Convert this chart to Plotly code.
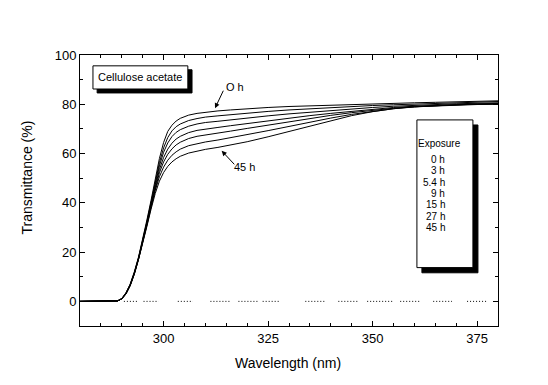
import plotly.graph_objects as go

wavelength = [280, 288, 289, 290, 291, 292, 293, 294, 295, 296, 297, 298, 299, 300, 301, 302, 303, 304,
              306, 308, 310, 313, 316, 320, 325, 330, 335, 340, 345, 350, 355, 360, 365, 370, 375, 380]

t_0h = [0, 0, 0.2, 1.2, 3.5, 7.0, 12.0, 18.0, 25.0, 33.0, 41.0, 50.0, 58.0, 64.5, 69.0, 71.5, 73.2, 74.3,
        75.6, 76.3, 76.8, 77.3, 77.7, 78.2, 78.7, 79.1, 79.4, 79.7, 80.0, 80.2, 80.4, 80.6, 80.8, 81.0, 81.2, 81.4]
t_3h = [0, 0, 0.2, 1.1, 3.4, 6.8, 11.7, 17.7, 24.6, 32.3, 40.2, 48.6, 56.3, 62.3, 66.5, 69.2, 70.9, 72.0,
        73.4, 74.2, 74.8, 75.3, 75.8, 76.4, 77.1, 77.7, 78.2, 78.7, 79.1, 79.5, 79.8, 80.1, 80.4, 80.7, 80.9, 81.1]
t_5_4h = [0, 0, 0.2, 1.1, 3.3, 6.7, 11.5, 17.5, 24.3, 31.9, 39.7, 47.8, 55.0, 60.5, 64.3, 66.9, 68.6, 69.7,
          71.1, 72.0, 72.6, 73.1, 73.7, 74.4, 75.3, 76.1, 76.8, 77.5, 78.1, 78.7, 79.2, 79.6, 79.9, 80.2, 80.4, 80.6]
t_9h = [0, 0, 0.2, 1.1, 3.2, 6.6, 11.4, 17.3, 24.0, 31.5, 39.1, 46.9, 53.5, 58.4, 61.8, 64.2, 65.9, 67.0,
        68.5, 69.4, 70.0, 70.6, 71.3, 72.2, 73.3, 74.4, 75.4, 76.3, 77.2, 78.0, 78.7, 79.2, 79.6, 79.9, 80.1, 80.3]
t_15h = [0, 0, 0.2, 1.0, 3.1, 6.5, 11.3, 17.2, 23.8, 31.2, 38.7, 46.1, 52.2, 56.6, 59.7, 61.9, 63.5, 64.6,
         66.1, 67.0, 67.6, 68.3, 69.1, 70.2, 71.6, 73.0, 74.3, 75.5, 76.6, 77.6, 78.4, 79.0, 79.4, 79.7, 79.9, 80.0]
t_27h = [0, 0, 0.2, 1.0, 3.0, 6.4, 11.1, 17.1, 23.6, 30.8, 38.1, 45.0, 50.6, 54.5, 57.3, 59.3, 60.7, 61.8,
         63.2, 64.1, 64.7, 65.5, 66.4, 67.6, 69.3, 71.0, 72.8, 74.4, 75.9, 77.2, 78.2, 78.9, 79.4, 79.8, 80.0, 80.2]
t_45h = [0, 0, 0.2, 1.0, 3.0, 6.3, 11.0, 17.0, 23.4, 30.4, 37.4, 43.8, 48.8, 52.3, 54.8, 56.6, 57.9, 58.9,
         60.2, 61.1, 61.7, 62.5, 63.4, 64.8, 66.8, 69.0, 71.3, 73.4, 75.4, 77.0, 78.2, 79.0, 79.5, 79.8, 80.0, 80.3]

series_names = ["0 h", "3 h", "5.4 h", "9 h", "15 h", "27 h", "45 h"]
series_values = [t_0h, t_3h, t_5_4h, t_9h, t_15h, t_27h, t_45h]

# dotted baseline segments at 0 %
baseline_x = [290.5, 293.8, None, 295.2, 298.8, None, 303.4, 307.0, None, 311.2, 316.0, None,
              317.9, 322.7, None, 323.7, 328.0, None, 333.9, 338.7, None, 341.8, 346.6, None,
              348.7, 354.7, None, 356.6, 361.4, None, 364.5, 369.0, None, 372.6, 377.4]
baseline_y = [0 if v is not None else None for v in baseline_x]

fig = go.Figure()
for name, vals in zip(series_names, series_values):
    fig.add_trace(go.Scatter(x=wavelength, y=vals, mode="lines", name=name,
                             line=dict(color="black", width=1), showlegend=False))
fig.add_trace(go.Scatter(x=baseline_x, y=baseline_y, mode="lines", showlegend=False,
                         line=dict(color="black", width=1, dash="1px,2px"), connectgaps=False))

font = "Arial, Liberation Sans, sans-serif"

shapes = [
    # Cellulose acetate box + shadow
    dict(type="rect", xref="x", yref="y", x0=284.1, x1=306.8, y0=84.6, y1=94.0,
         fillcolor="black", line=dict(color="black", width=1), layer="above"),
    dict(type="rect", xref="x", yref="y", x0=283.1, x1=305.8, y0=86.2, y1=95.6,
         fillcolor="white", line=dict(color="black", width=1), layer="above"),
    # Exposure legend box + shadow
    dict(type="rect", xref="x", yref="y", x0=361.8, x1=375.2, y0=11.6, y1=71.6,
         fillcolor="black", line=dict(color="black", width=1), layer="above"),
    dict(type="rect", xref="x", yref="y", x0=360.6, x1=374.0, y0=13.7, y1=73.65,
         fillcolor="white", line=dict(color="black", width=1), layer="above"),
]

annotations = [
    dict(x=294.45, y=90.9, xref="x", yref="y", text="Cellulose acetate", showarrow=False,
         font=dict(size=11, color="black", family=font)),
    dict(x=312.3, y=78.4, xref="x", yref="y", text="", showarrow=True, ax=9, ay=-19,
         arrowhead=2, arrowsize=1, arrowwidth=1, arrowcolor="black"),
    dict(x=313.9, y=61.1, xref="x", yref="y", text="", showarrow=True, ax=14, ay=15,
         arrowhead=2, arrowsize=1, arrowwidth=1, arrowcolor="black"),
    dict(x=317.0, y=87.0, xref="x", yref="y", text="O h", showarrow=False,
         font=dict(size=11, color="black", family=font)),
    dict(x=319.4, y=54.6, xref="x", yref="y", text="45 h", showarrow=False,
         font=dict(size=11, color="black", family=font)),
    dict(x=366.1, y=64.2, xref="x", yref="y", text="Exposure", showarrow=False,
         font=dict(size=10, color="black", family=font)),
    # axis titles
    dict(x=0.4976, y=-0.137, xref="paper", yref="paper", text="Wavelength (nm)", showarrow=False,
         xanchor="center", yanchor="middle", font=dict(size=14, color="black", family=font)),
    dict(x=-0.1275, y=0.547, xref="paper", yref="paper", text="Transmittance (%)", showarrow=False,
         xanchor="center", yanchor="middle", textangle=-90,
         font=dict(size=14, color="black", family=font)),
]
legend_y = [57.7, 53.0, 48.4, 43.8, 39.2, 34.5, 29.8]
for name, yy in zip(series_names, legend_y):
    annotations.append(dict(x=367.8, y=yy, xref="x", yref="y", text=name, showarrow=False,
                            xanchor="right", font=dict(size=10, color="black", family=font)))

fig.update_layout(
    width=548, height=385,
    margin=dict(l=72, r=58, t=47, b=67, autoexpand=False),
    paper_bgcolor="white", plot_bgcolor="white",
    font=dict(family=font, color="black", size=13),
    shapes=shapes, annotations=annotations,
    showlegend=False,
)
fig.update_xaxes(
    range=[280, 380], tick0=300, dtick=25, ticks="inside", ticklen=5, tickwidth=1,
    tickcolor="black", showline=True, linecolor="black", linewidth=1, mirror="ticks",
    showgrid=False, zeroline=False, tickfont=dict(size=13), automargin=False,
    minor=dict(ticks="inside", dtick=5, tick0=300, ticklen=3, tickcolor="black", showgrid=False),
)
fig.update_yaxes(
    range=[-10, 100], tick0=0, dtick=20, ticks="inside", ticklen=5, tickwidth=1,
    tickcolor="black", showline=True, linecolor="black", linewidth=1, mirror="ticks",
    showgrid=False, zeroline=False, tickfont=dict(size=13), automargin=False,
    minor=dict(ticks="inside", dtick=10, tick0=0, ticklen=3, tickcolor="black", showgrid=False),
)

fig.write_html("out.html")
